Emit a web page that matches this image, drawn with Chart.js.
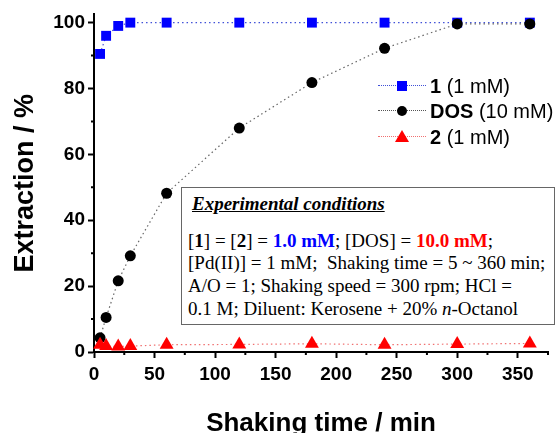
<!DOCTYPE html>
<html>
<head>
<meta charset="utf-8">
<script src="https://cdn.jsdelivr.net/npm/chart.js@4.4.1/dist/chart.umd.min.js"></script>
<style>
  html, body { margin: 0; padding: 0; background: #fff; }
  #wrap { position: relative; width: 556px; height: 433px; overflow: hidden; }
  #c { position: absolute; left: 0; top: 0; }
  .leg { position: absolute; font-family: "Liberation Sans", Arial, sans-serif; font-size: 20px; color: #000; }
  .row { position: absolute; left: 0; height: 24px; width: 190px; }
  .ln { position: absolute; left: 0; top: 11px; width: 48px; height: 0; border-top: 1.5px dotted; }
  .mk { position: absolute; }
  .lt { position: absolute; left: 52px; top: 0; line-height: 24px; white-space: nowrap; }
  #box { position: absolute; left: 181px; top: 187px; width: 372px; height: 136px; border: 1px solid #666; background: #fff;
         font-family: "Liberation Serif", "Times New Roman", serif; font-size: 19px; color: #000; }
  #box .t { position: absolute; left: 10px; top: 5px; font-weight: bold; font-style: italic; text-decoration: underline; font-size: 19px; white-space: nowrap; }
  #box .l { position: absolute; left: 6px; white-space: nowrap; line-height: 22px; }
</style>
</head>
<body>
<div id="wrap">
  <canvas id="c" width="556" height="433"></canvas>
  <div class="leg" style="left:378px; top:74px;">
    <div class="row" style="top:0px;">
      <div class="ln" style="border-color:#4050d8;"></div>
      <div class="mk" style="left:19px; top:7px; width:10px; height:10px; background:#0000ff;"></div>
      <div class="lt"><b>1</b> (1 mM)</div>
    </div>
    <div class="row" style="top:25px;">
      <div class="ln" style="border-color:#555;"></div>
      <div class="mk" style="left:19px; top:7px; width:10px; height:10px; border-radius:50%; background:#000;"></div>
      <div class="lt"><b>DOS</b> (10 mM)</div>
    </div>
    <div class="row" style="top:51px;">
      <div class="ln" style="border-color:#f07070;"></div>
      <div class="mk" style="left:17px; top:5px; width:0; height:0; border-left:7px solid transparent; border-right:7px solid transparent; border-bottom:12px solid #ff0000;"></div>
      <div class="lt"><b>2</b> (1 mM)</div>
    </div>
  </div>
  <div id="box">
    <div class="t">Experimental conditions</div>
    <div class="l" style="top:42px;">[<b>1</b>] = [<b>2</b>] = <b style="color:#0000ff;">1.0 mM</b>; [DOS] = <b style="color:#ff0000;">10.0 mM</b>;</div>
    <div class="l" style="top:64px;">[Pd(II)] = 1 mM;&nbsp; Shaking time = 5 ~ 360 min;</div>
    <div class="l" style="top:87px;">A/O = 1; Shaking speed = 300 rpm; HCl =</div>
    <div class="l" style="top:110px;">0.1 M; Diluent: Kerosene + 20% <i>n</i>-Octanol</div>
  </div>
</div>
<script>
const timeMin = [5, 10, 20, 30, 60, 120, 180, 240, 300, 360];
const ext1 = [90.5, 96, 99, 100, 100, 100, 100, 100, 100, 100];
const extDOS = [4.3, 10.5, 21.6, 29.2, 48.2, 68, 81.8, 92.2, 99.6, 99.6];
const ext2 = [2.2, 1.8, 1.7, 1.8, 2.2, 2.3, 2.5, 2.2, 2.4, 2.6];
const xMajorTicks = [0, 50, 100, 150, 200, 250, 300, 350];
const xMinorTicks = [25, 75, 125, 175, 225, 275, 325, 375];
const yMajorTicks = [0, 20, 40, 60, 80, 100];
const yMinorTicks = [10, 30, 50, 70, 90];

const pts = (ys) => timeMin.map((x, i) => ({x: x, y: ys[i]}));

const minorTicks = {
  id: 'minorTicks',
  afterDraw(chart) {
    const ctx = chart.ctx, xs = chart.scales.x, ys = chart.scales.y;
    const ca = chart.chartArea;
    ctx.save();
    ctx.strokeStyle = '#000';
    ctx.lineWidth = 2;
    ctx.beginPath();
    xMinorTicks.forEach(v => { const p = xs.getPixelForValue(v); ctx.moveTo(p, ca.bottom); ctx.lineTo(p, ca.bottom + 3); });
    yMinorTicks.forEach(v => { const p = ys.getPixelForValue(v); ctx.moveTo(ca.left, p); ctx.lineTo(ca.left - 3, p); });
    ctx.stroke();
    ctx.restore();
  }
};

new Chart(document.getElementById('c'), {
  type: 'scatter',
  data: {
    datasets: [
      { label: '1 (1 mM)', data: pts(ext1), showLine: true, borderColor: '#4050d8', borderWidth: 1.2, borderDash: [1.5, 3],
        pointStyle: 'rect', pointRadius: 7, pointBackgroundColor: '#0000ff', pointBorderColor: '#0000ff', pointBorderWidth: 0, clip: false, order: 2 },
      { label: 'DOS (10 mM)', data: pts(extDOS), showLine: true, borderColor: '#666', borderWidth: 1.2, borderDash: [1.5, 3],
        pointStyle: 'circle', pointRadius: 5.5, pointBackgroundColor: '#000', pointBorderColor: '#000', pointBorderWidth: 0, clip: false, order: 1 },
      { label: '2 (1 mM)', data: pts(ext2), showLine: true, borderColor: '#f07070', borderWidth: 1.2, borderDash: [1.5, 3],
        pointStyle: 'triangle', pointRadius: 8, pointBackgroundColor: '#ff0000', pointBorderColor: '#ff0000', pointBorderWidth: 0, clip: false, order: 0 }
    ]
  },
  options: {
    responsive: false,
    animation: false,
    layout: { padding: { top: 13, right: 3, left: 0, bottom: 0 } },
    plugins: { legend: { display: false }, tooltip: { enabled: false } },
    scales: {
      x: {
        type: 'linear', min: 0, max: 375,
        afterBuildTicks: (s) => { s.ticks = xMajorTicks.map(v => ({value: v})); },
        afterFit: (s) => { s.height = 81; },
        border: { display: true, color: '#000', width: 2 },
        grid: { drawOnChartArea: false, drawTicks: true, tickLength: 6, tickColor: '#000', tickWidth: 2 },
        ticks: { color: '#000', padding: 5, maxRotation: 0, font: { family: 'Liberation Sans', size: 19, weight: 'bold' } },
        title: { display: true, text: 'Shaking time / min', color: '#000', padding: { top: 0, bottom: 0 },
                 font: { family: 'Liberation Sans', size: 26, weight: 'bold', lineHeight: 0.7 } }
      },
      y: {
        type: 'linear', min: 0, max: 102.5,
        afterBuildTicks: (s) => { s.ticks = yMajorTicks.map(v => ({value: v})); },
        afterFit: (s) => { s.width = 94; },
        border: { display: true, color: '#000', width: 2 },
        grid: { drawOnChartArea: false, drawTicks: true, tickLength: 6, tickColor: '#000', tickWidth: 2 },
        ticks: { color: '#000', padding: 3, font: { family: 'Liberation Sans', size: 19, weight: 'bold' } },
        title: { display: true, text: 'Extraction / %', color: '#000', padding: { top: 9, bottom: 0 },
                 font: { family: 'Liberation Sans', size: 27, weight: 'bold', lineHeight: 1.2 } }
      }
    }
  },
  plugins: [minorTicks]
});
</script>
</body>
</html>
